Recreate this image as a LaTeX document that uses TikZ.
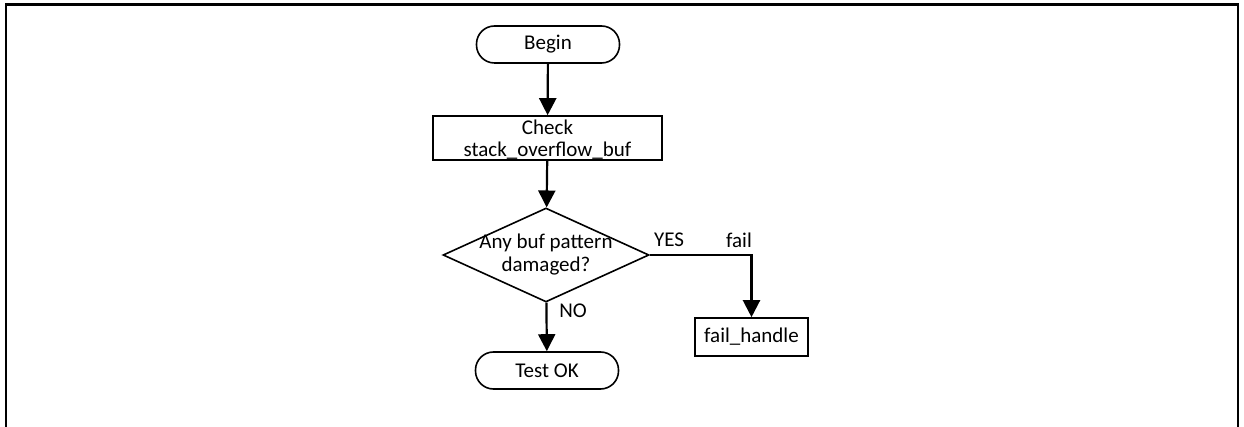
\documentclass[tikz,border=0pt]{standalone}
\usepackage{fontspec}
\setmainfont{Carlito}
\usetikzlibrary{arrows.meta,shapes.geometric}
\begin{document}
\begin{tikzpicture}[x=1pt,y=-1pt,
  font=\fontsize{21}{24}\selectfont,
  line width=2pt,
  terminal/.style={draw,line width=1.6pt,rounded corners=18pt,minimum width=143pt,minimum height=37pt,inner sep=0pt},
  process/.style={draw,line width=1.6pt,inner sep=0pt,align=center},
  decision/.style={draw,line width=1.6pt,diamond,minimum width=206pt,minimum height=94pt,inner sep=0pt},
  flow/.style={-{Triangle[width=17pt,length=17pt]},line width=2.2pt},
  lbl/.style={inner sep=0pt,align=center}
]
\useasboundingbox (0,0) rectangle (1244,427);
% open frame around the chart
\draw[line width=2.4pt] (6,427) -- (6,4.5) -- (1238,4.5) -- (1238,427);

\node[terminal] (begin) at (548,44.5) {Begin};
\node[process,minimum width=229pt,minimum height=44pt] (check) at (547.5,138) {};
\node[lbl] (checktxt) at (547.5,140) {Check\\[-2pt]stack\_overflow\_buf};
\node[decision] (dec) at (546,255) {};
\node[lbl] (dectxt) at (546,255) {Any buf pattern\\[-1pt]damaged?};
\node[terminal] (ok) at (547,370.5) {Test OK};
\node[process,minimum width=113pt,minimum height=38pt] (fail) at (751.5,337) {fail\_handle};
\coordinate (corner) at (fail.north |- dec.east);

\draw[flow] (begin) -- (check);
\draw[flow] (check) -- (dec);
\draw[flow] (dec) -- (ok);
\draw[flow] (dec.east) -- (corner) -- (fail);

\node[lbl] (yes) at (669,240) {YES};
\node[lbl] (failtxt) at (739,240) {fail};
\node[lbl] (no) at (573,311) {NO};
\end{tikzpicture}
\end{document}
